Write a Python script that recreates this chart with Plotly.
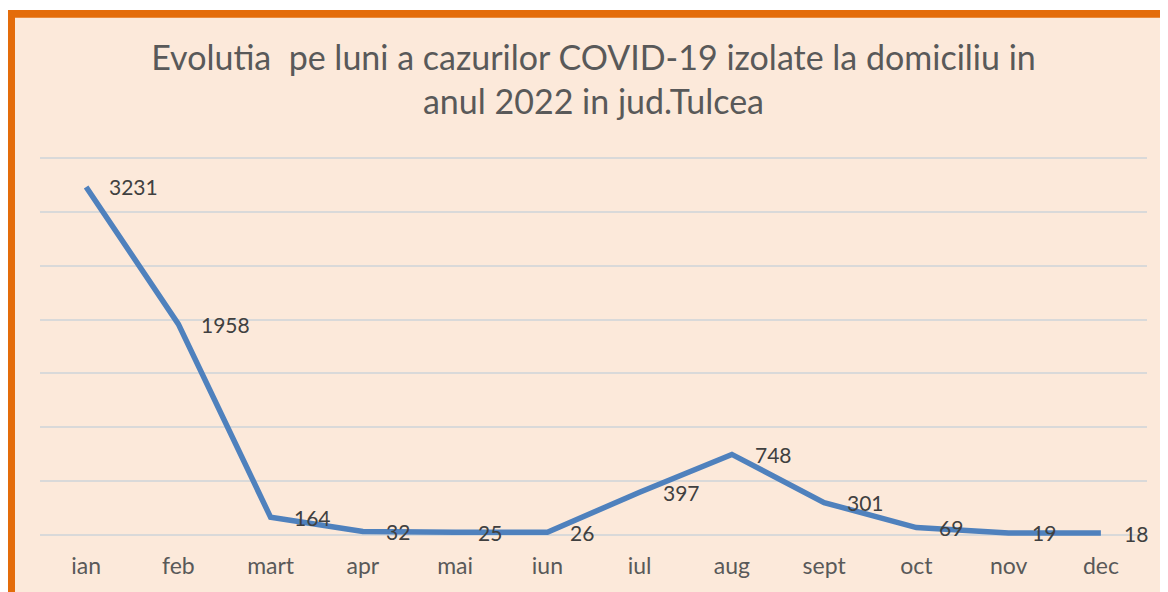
import plotly.graph_objects as go

months = ["ian", "feb", "mart", "apr", "mai", "iun", "iul", "aug", "sept", "oct", "nov", "dec"]
cases = [3231, 1958, 164, 32, 25, 26, 397, 748, 301, 69, 19, 18]
grid_vals = [0, 500, 1000, 1500, 2000, 2500, 3000, 3500]
title_text = "Evolutia  pe luni a cazurilor COVID-19 izolate la domiciliu in<br>anul 2022 in jud.Tulcea"

# page body has an 8px margin, so the figure is drawn 8px right/down
OFF = 8
PAD = 2  # px of padding above/below the outer gridlines so they get drawn
TOP_S, BOT_S = 157.5 - PAD, 535.5 + PAD  # screen y of plot area edges
W, H = 1168 - OFF, 592 - OFF
ML, MT = 40 - OFF, TOP_S - OFF
MR = W - (1147 - OFF)
MB = H - (BOT_S - OFF)
PW, PH = W - ML - MR, H - MT - MB
YPAD = PAD * 3500 / (535.5 - 157.5)

def px(x):
    return (x - OFF - ML) / PW

def py(y):
    return (H - MB - (y - OFF)) / PH

ORANGE = "#E46C0A"
PEACH = "#FCE9DA"
FONT = "Lato, Carlito, Calibri, sans-serif"

fig = go.Figure()
fig.add_trace(go.Scatter(
    x=months, y=cases, mode="lines",
    line=dict(color="#4F81BD", width=5.5),
    hoverinfo="x+y", showlegend=False,
))

annotations = [
    dict(x=m, y=v, xref="x", yref="y", text=str(v), showarrow=False,
         xanchor="left", yanchor="middle", xshift=21,
         font=dict(family=FONT, size=21, color="#404040"))
    for m, v in zip(months, cases)
]

shapes = [
    dict(type="rect", xref="paper", yref="paper", x0=px(7), x1=px(1200), y0=py(620), y1=py(9),
         fillcolor=ORANGE, line=dict(width=0), layer="below"),
    dict(type="rect", xref="paper", yref="paper", x0=px(15), x1=px(1200), y0=py(620), y1=py(17),
         fillcolor=PEACH, line=dict(width=0), layer="below"),
]

fig.update_layout(
    width=W, height=H,
    margin=dict(l=ML, r=MR, t=MT, b=MB, autoexpand=False),
    paper_bgcolor="white",
    plot_bgcolor="rgba(0,0,0,0)",
    title=dict(text=title_text, x=0.5, xref="paper", xanchor="center",
               y=1 - (69.5 - OFF) / H, yanchor="middle", yref="container",
               font=dict(family=FONT, size=34, color="#595959")),
    xaxis=dict(range=[-0.5, 11.5], showgrid=False, showline=False, ticks="", zeroline=False,
               tickfont=dict(family=FONT, size=23, color="#595959"), automargin=False,
               ticklabelstandoff=11 + PAD, fixedrange=True),
    yaxis=dict(range=[-YPAD, 3500 + YPAD], tickvals=grid_vals, automargin=False,
               showgrid=True, gridcolor="#D9D9D9", gridwidth=1.5,
               showticklabels=False, zeroline=False, showline=False, fixedrange=True),
    shapes=shapes,
    annotations=annotations,
    showlegend=False,
)

fig.write_html("out.html")
